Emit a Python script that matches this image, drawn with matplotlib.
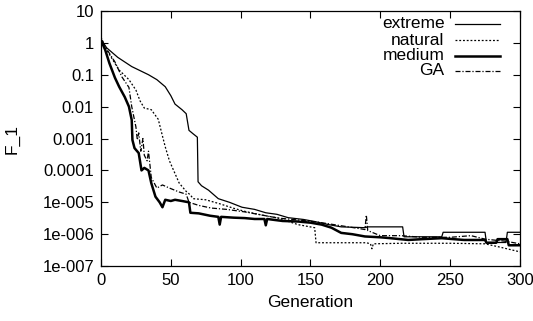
import matplotlib
matplotlib.use('Agg')
import matplotlib.pyplot as plt
from matplotlib.ticker import FixedLocator, LogLocator, NullFormatter

plt.rcParams['font.family'] = ['Liberation Sans', 'DejaVu Sans']

# curve data (generation, F_1)
extreme_gen = [0, 4, 12, 22, 34, 40, 46, 50, 53, 58, 61, 63, 66, 69, 69.5, 72, 77, 84, 92,
               101, 110, 118, 126, 134, 145, 153, 163, 172, 189, 191, 216, 217, 244, 245,
               275, 276, 290, 291, 300]
extreme_val = [1.3, 0.7, 0.35, 0.18, 0.1, 0.07, 0.042, 0.022, 0.012, 0.008, 0.006, 0.0018,
               0.0014, 0.0011, 4.4e-5, 3.3e-5, 2.4e-5, 1.3e-5, 1.0e-5, 7e-6, 6e-6, 4.7e-6,
               4.2e-6, 3.3e-6, 2.9e-6, 2.5e-6, 2.0e-6, 1.7e-6, 1.6e-6, 1.7e-6, 1.7e-6, 8.3e-7,
               8.3e-7, 1.15e-6, 1.15e-6, 5.5e-7, 5.5e-7, 1.15e-6, 1.15e-6]

natural_gen = [0, 4, 13, 20, 25, 28, 31, 36, 41, 44, 46, 49, 52, 56, 61, 64, 66, 75, 85, 95,
               103, 115, 127, 141, 153, 154, 190, 193, 194, 195, 215, 250, 275, 285, 300]
natural_val = [1.5, 0.6, 0.14, 0.07, 0.033, 0.015, 0.009, 0.008, 0.004, 0.0012, 0.00055,
               0.0002, 0.0001, 4e-5, 2.2e-5, 1.7e-5, 1.3e-5, 1.2e-5, 9e-6, 6.5e-6, 5.2e-6,
               4e-6, 3.2e-6, 2.0e-6, 1.6e-6, 5.4e-7, 5.4e-7, 5e-7, 3.5e-7, 5e-7, 5.2e-7,
               5.2e-7, 5e-7, 4e-7, 2.8e-7]

medium_gen = [0, 3, 6, 10, 13, 17, 20, 22, 22.5, 24, 27, 29, 31, 34, 36, 39, 42, 44, 46, 50,
              53, 58, 63, 64, 70, 78, 84, 85, 86, 95, 103, 110, 117, 118, 119, 130, 141, 150,
              158, 165, 172, 180, 189, 200, 206, 220, 230, 244, 260, 275, 276, 283, 284, 291,
              292, 300]
medium_val = [1.2, 0.6, 0.23, 0.08, 0.042, 0.02, 0.01, 0.0038, 0.0009, 0.0005, 0.00035,
              0.0001, 0.00012, 0.0001, 4e-5, 1.5e-5, 1.0e-5, 7e-6, 1.2e-5, 1.1e-5, 1.2e-5,
              1.1e-5, 1.0e-5, 4.7e-6, 4.5e-6, 3.8e-6, 3.5e-6, 2e-6, 3.5e-6, 3.3e-6, 3.2e-6,
              3.0e-6, 3.0e-6, 1.9e-6, 3e-6, 2.6e-6, 2.5e-6, 2.3e-6, 2.0e-6, 1.6e-6, 1.1e-6,
              1.0e-6, 8.5e-7, 8e-7, 7.6e-7, 6.6e-7, 7e-7, 7.5e-7, 6.6e-7, 6.6e-7, 5.4e-7,
              5.4e-7, 7e-7, 7e-7, 4.5e-7, 4.5e-7]

ga_gen = [0, 5, 10, 15, 20, 22, 25, 26, 27, 28.5, 30, 31, 33, 34, 36, 40, 44, 49, 56, 61, 63,
          70, 79, 90, 103, 115, 127, 141, 155, 170, 185, 189, 190, 191, 200, 215, 230, 250,
          265, 275, 290, 300]
ga_val = [1.0, 0.55, 0.25, 0.085, 0.04, 0.01, 0.0023, 0.0009, 0.0015, 0.0004, 0.001, 0.0003,
          0.0002, 0.0004, 6e-5, 2.8e-5, 3.5e-5, 2.8e-5, 2.1e-5, 1.8e-5, 1.0e-5, 8e-6, 6.6e-6,
          6e-6, 5e-6, 4e-6, 3.2e-6, 2.8e-6, 2.4e-6, 1.9e-6, 1.5e-6, 1.4e-6, 4e-6, 1.3e-6,
          9e-7, 9e-7, 8e-7, 8e-7, 9e-7, 7e-7, 6e-7, 5e-7]

series = [
    ('extreme', extreme_gen, extreme_val, dict(lw=0.9, ls='-')),
    ('natural', natural_gen, natural_val, dict(lw=0.9, ls=(0, (1.5, 1.5)))),
    ('medium', medium_gen, medium_val, dict(lw=1.8, ls='-')),
    ('GA', ga_gen, ga_val, dict(lw=0.9, ls=(0, (4, 1.5, 1, 1.5)))),
]

x_ticks = [0, 50, 100, 150, 200, 250, 300]
y_ticks = [1e-7, 1e-6, 1e-5, 1e-4, 1e-3, 1e-2, 1e-1, 1, 10]
y_labels = ['1e-007', '1e-006', '1e-005', '0.0001', '0.001', '0.01', '0.1', '1', '10']

fig = plt.figure(figsize=(5.33, 3.21), dpi=100)
ax = fig.add_axes([0.1895, 0.171, 0.786, 0.795])

for name, g, v, style in series:
    ax.plot(g, v, color='black', **style)

ax.set_yscale('log')
ax.set_xlim(0, 300)
ax.set_ylim(1e-7, 10)
ax.xaxis.set_major_locator(FixedLocator(x_ticks))
ax.set_yticks(y_ticks)
ax.set_yticklabels(y_labels)
ax.yaxis.set_minor_locator(LogLocator(base=10, subs=range(2, 10)))
ax.yaxis.set_minor_formatter(NullFormatter())
ax.tick_params(which='both', direction='in', top=True, right=True, labelsize=12)
ax.tick_params(which='major', length=5, width=0.8, pad=5)
ax.tick_params(which='minor', length=2.5, width=0.6)
for s in ax.spines.values():
    s.set_linewidth(0.9)

ax.set_xlabel('Generation', fontsize=12.5, labelpad=5)
ax.set_ylabel('F_1', fontsize=12.5, labelpad=16)

# gnuplot-style key: right-aligned text followed by a line sample
key_y = [0.95, 0.885, 0.825, 0.765]
for (name, g, v, style), ky in zip(series, key_y):
    ax.text(0.82, ky, name, transform=ax.transAxes, ha='right', va='center', fontsize=12.5)
    ax.plot([0.845, 0.953], [ky, ky], transform=ax.transAxes, color='black', **style)

fig.savefig('out.png', dpi=100)
